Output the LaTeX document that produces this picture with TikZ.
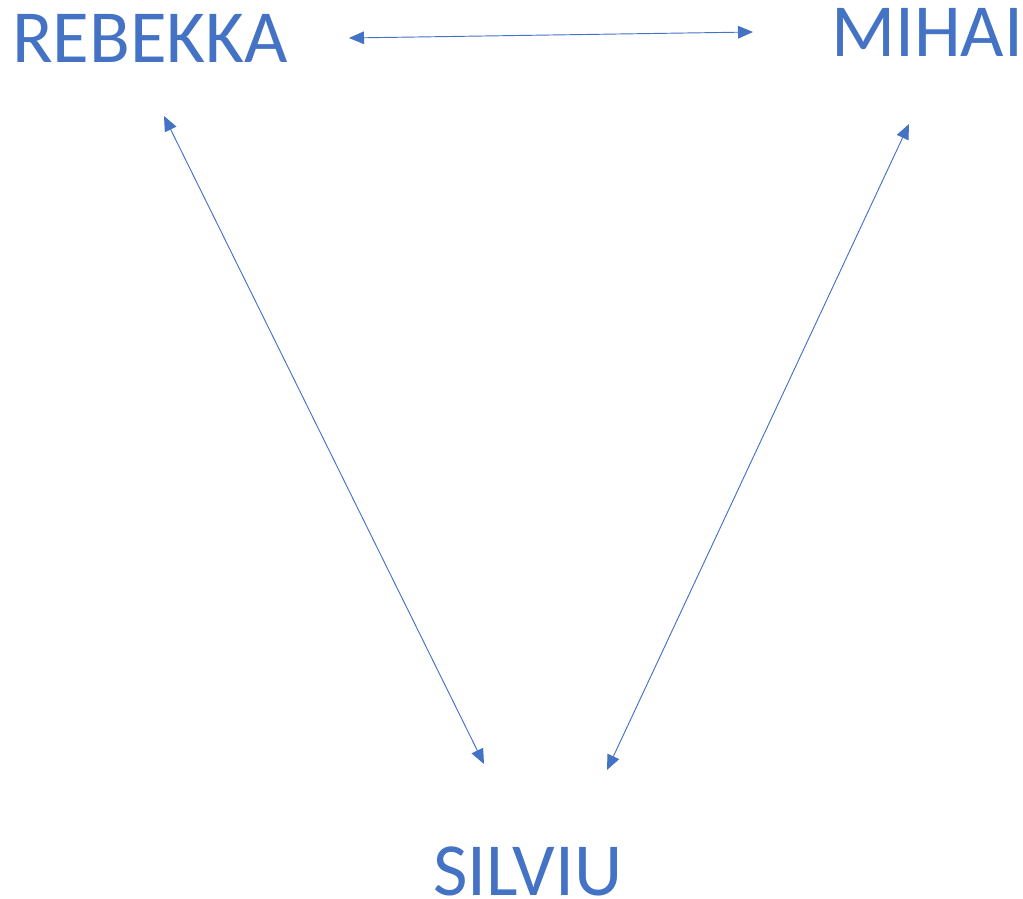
\documentclass[tikz,border=0pt]{standalone}
\usepackage{fontspec}
\setmainfont{Carlito}
\usepackage{tikz}
\usetikzlibrary{arrows.meta, positioning}
\definecolor{nameblue}{HTML}{4472C4}

\begin{document}
\begin{tikzpicture}[x=0.03cm,y=-0.03cm,
    person/.style={text=nameblue,font=\fontsize{64}{64}\selectfont,inner sep=0pt,anchor=base west},
    link/.style={draw=nameblue,line width=0.8pt,{Triangle[length=0.45cm,width=0.38cm]}-{Triangle[length=0.45cm,width=0.38cm]}}]
    \useasboundingbox (0,0) rectangle (1023,899);
    \node[person] (rebekka) at (12,63) {REBEKKA};
    \node[person] (mihai) at (831,57) {MIHAI};
    \node[person] (silviu) at (433,895) {SILVIU};
    % arrow ends
    \coordinate (rm1) at (349,38);
    \coordinate (rm2) at (753,32);
    \coordinate (rs1) at (164,116);
    \coordinate (rs2) at (484,764);
    \coordinate (ms1) at (909,124);
    \coordinate (ms2) at (607,770);
    \draw[link] (rm1) -- (rm2);
    \draw[link] (rs1) -- (rs2);
    \draw[link] (ms1) -- (ms2);
\end{tikzpicture}
\end{document}
